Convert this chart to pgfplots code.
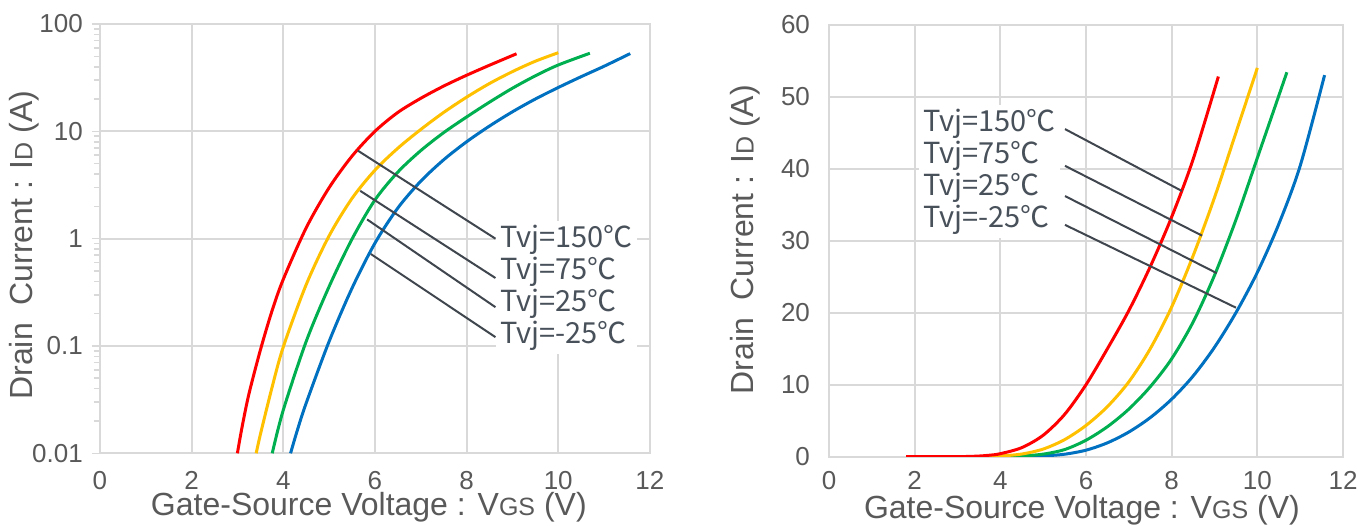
\documentclass[border=0pt]{standalone}
\usepackage{fontspec}
\setmainfont{Liberation Sans}
\newfontfamily\cjk{Noto Sans CJK JP}
\usepackage{pgfplots}
\pgfplotsset{compat=1.18}
\definecolor{cred}{RGB}{255,0,0}
\definecolor{cyel}{RGB}{255,192,0}
\definecolor{cgrn}{RGB}{0,176,80}
\definecolor{cblu}{RGB}{0,112,192}
\definecolor{gridc}{RGB}{217,217,217}
\definecolor{txt}{RGB}{89,89,89}
\definecolor{annt}{RGB}{72,80,90}
\definecolor{annl}{RGB}{64,70,78}

\pgfplotstableread{
x y
3.0 0.0100
3.1 0.0174
3.25 0.0355
3.5 0.0912
3.75 0.209
4.0 0.417
4.5 1.259
5.0 2.98
5.5 5.87
6.0 10.0
6.5 15.0
7.0 20.3
7.5 26.4
8.0 33.3
8.5 41.3
9.09 52.8
}\red
\pgfplotstableread{
x y
3.41 0.0100
3.5 0.0149
3.75 0.0402
4.0 0.0977
4.5 0.372
5.0 1.06
5.5 2.37
6.0 4.34
6.5 6.96
7.0 10.4
7.5 15.0
8.0 20.8
8.5 27.9
9.0 36.0
9.5 45.0
10.0 54.0
}\yel
\pgfplotstableread{
x y
3.76 0.0100
4.0 0.0252
4.5 0.110
5.0 0.357
5.5 0.99
6.0 2.29
6.5 4.17
7.0 6.61
7.5 9.72
8.0 13.6
8.5 18.7
9.0 25.2
9.5 32.9
10.0 41.5
10.69 53.4
}\grn
\pgfplotstableread{
x y
4.16 0.0100
4.3 0.0160
4.5 0.0293
5.0 0.110
5.5 0.345
6.0 0.907
6.5 1.93
7.0 3.43
7.5 5.43
8.0 7.99
8.5 11.2
9.0 15.2
9.5 20.0
10.0 25.6
10.5 32.3
11.0 40.4
11.57 53.0
}\blu
% flat start of the curves on the linear plot
\pgfplotstableread{
x y
1.8 0
2.4 0
}\zero

\pgfplotsset{
  common/.style={
    scale only axis,
    anchor=south west,
    xmin=0, xmax=12,
    xtick={0,2,4,6,8,10,12},
    xticklabels={0,2,4,6,8,10,12},
    axis line style={draw=gridc, line width=1pt},
    grid=major,
    major grid style={draw=gridc, line width=1pt},
    xtick style={draw=none},
    tick label style={text=txt, font=\fontsize{13}{13}\selectfont},
    label style={text=txt, font=\fontsize{16}{16}\selectfont},
    xlabel={Gate-Source Voltage : V{\fontsize{12.5}{12.5}\selectfont GS} (V)},
    ylabel={Drain\ \ Current : I{\fontsize{12.5}{12.5}\selectfont D} (A)},
    every axis plot/.append style={line width=1.5pt, smooth, no marks},
  },
}
\tikzset{
  annnode/.style={fill=white, anchor=west, align=left, inner sep=2pt, text=annt,
      font=\cjk\fontsize{14.5}{16}\selectfont},
  annline/.style={draw=annl, line width=1pt},
}

\begin{document}
\begin{tikzpicture}
\useasboundingbox (-49.95pt,-35.85pt) rectangle (629.05pt,226.65pt);
% ---------- left: log ----------
\begin{axis}[common,
  at={(0pt,0pt)},
  width=275pt, height=214.65pt,
  ymode=log, ymin=0.01, ymax=100,
  ytick={0.01,0.1,1,10,100},
  yticklabels={0.01,0.1,1,10,100},
  minor ytick={0.02,0.03,0.04,0.05,0.06,0.07,0.08,0.09,0.2,0.3,0.4,0.5,0.6,0.7,0.8,0.9,2,3,4,5,6,7,8,9,20,30,40,50,60,70,80,90},
  ytick pos=left, tick align=outside,
  ytick style={draw=gridc, line width=0.8pt},
  major tick length=4pt, minor tick length=3pt,
  yticklabel style={xshift=-1pt},
  xticklabel style={yshift=-1.5pt},
  xlabel style={at={(axis description cs:0.489,-0.125)}, anchor=center},
  ylabel style={at={(axis description cs:-0.138,0.485)}, anchor=center},
]
\addplot[cblu] table {\blu};
\addplot[cgrn] table {\grn};
\addplot[cyel] table {\yel};
\addplot[cred] table {\red};
\node[annnode] at (8.64,0.35) {Tvj=150℃\\Tvj=75℃\\Tvj=25℃\\Tvj=-25℃};
\draw[annline] (5.63,6.6) -- (8.63,1.0);
\draw[annline] (5.68,2.79) -- (8.63,0.43);
\draw[annline] (5.83,1.51) -- (8.63,0.23);
\draw[annline] (5.91,0.72) -- (8.63,0.121);
\end{axis}
% ---------- right: linear ----------
\begin{axis}[common,
  at={(364.55pt,-1.7pt)},
  width=257pt, height=216pt,
  ymin=0, ymax=60,
  ytick={0,10,20,30,40,50,60},
  yticklabels={0,10,20,30,40,50,60},
  ytick style={draw=none},
  yticklabel style={xshift=-6pt},
  xticklabel style={yshift=-4pt},
  xlabel style={at={(axis description cs:0.492,-0.123)}, anchor=center},
  ylabel style={at={(axis description cs:-0.163,0.502)}, anchor=center},
]
\addplot[cblu] table {\zero};
\addplot[cblu] table {\blu};
\addplot[cgrn] table {\grn};
\addplot[cyel] table {\yel};
\addplot[cgrn] table {\zero};
\addplot[cyel] table {\zero};
\addplot[cred] table {
x y
1.8 0
2.4 0
3.0 0.0100
3.1 0.0174
3.25 0.0355
3.5 0.0912
3.75 0.209
4.0 0.417
4.5 1.259
5.0 2.98
5.5 5.87
6.0 10.0
6.5 15.0
7.0 20.3
7.5 26.4
8.0 33.3
8.5 41.3
9.09 52.8
};
\node[annnode] at (2.10,39.6) {Tvj=150℃\\Tvj=75℃\\Tvj=25℃\\Tvj=-25℃};
\draw[annline] (5.51,45.5) -- (8.24,36.9);
\draw[annline] (5.51,40.4) -- (8.71,30.7);
\draw[annline] (5.51,36.2) -- (9.05,25.5);
\draw[annline] (5.51,32.2) -- (9.50,20.7);
\end{axis}
\end{tikzpicture}
\end{document}
